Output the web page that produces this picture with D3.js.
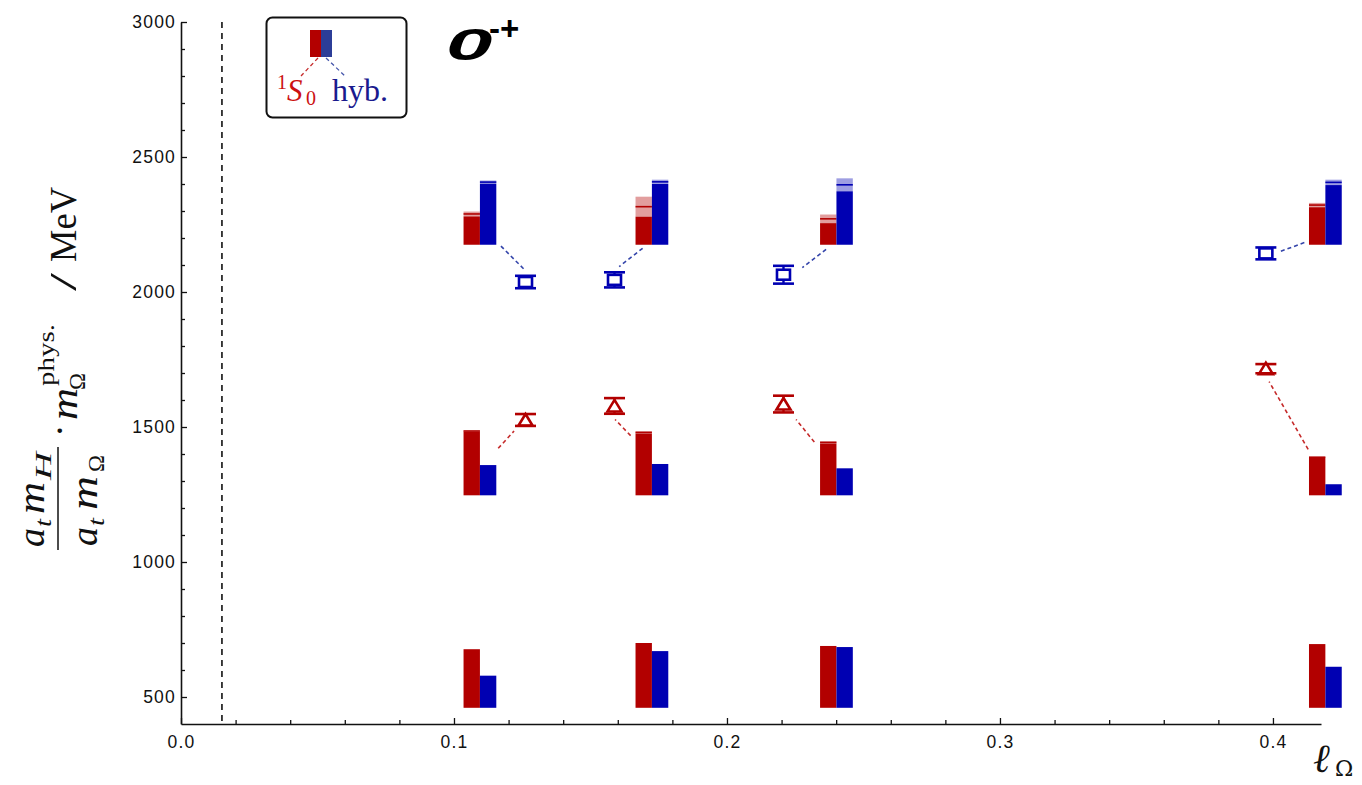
<!DOCTYPE html>
<html><head><meta charset="utf-8">
<script src="https://cdn.jsdelivr.net/npm/d3@7"></script>
<style>body{margin:0;background:#fff} svg{display:block}</style>
</head><body><svg id="chart" width="1362" height="785"></svg>
<script>
// l_Omega of each ensemble and the fitted masses (MeV)
const ellPoints = [0.1262, 0.1588, 0.2207, 0.3974];
const hybMass = [2037, 2045, 2064, 2143];
const hybErr = [23, 28, 33, 22];
const s0Mass = [1526, 1578, 1585, 1716];
const s0Err = [22, 29, 31, 17];

// overlap histograms: position, baseline per level, bar tops and errors
const barEll = [0.1095, 0.1725, 0.2401, 0.4192];
const barBase = [460, 1247, 2175];
const s0Low = [677, 700, 689, 696];
const hybLow = [579, 670, 685, 612];
const s0Mid = [1485, 1480, 1443, 1388];
const s0MidErr = [3, 4, 4, 2];
const hybMid = [1359, 1363, 1347, 1288];
const s0Top = [2289, 2316, 2271, 2322];
const s0TopErr = [9, 37, 16, 8];
const hybTop = [2407, 2408, 2397, 2406];
const hybTopErr = [6, 8, 24, 10];

// dashed connectors [l, MeV] between histogram and mass point
const hybLinkBar = [[0.1172, 2170], [0.1691, 2162], [0.2363, 2158], [0.4115, 2183]];
const hybLinkPt  = [[0.1260, 2081], [0.1605, 2094], [0.2276, 2090], [0.4029, 2151]];
const s0LinkBar  = [[0.1162, 1421], [0.1647, 1468], [0.2320, 1444], [0.4129, 1417]];
const s0LinkPt   = [[0.1220, 1485], [0.1590, 1528], [0.2253, 1528], [0.3986, 1668]];

// physical-point marker
const ellPhys = [0.015];

// ticks
const xMajor = [0, 0.1, 0.2, 0.3, 0.4];
const xMinor = [0.02, 0.04, 0.06, 0.08, 0.12, 0.14, 0.16, 0.18, 0.22, 0.24, 0.26, 0.28, 0.32, 0.34, 0.36, 0.38];
const yMajor = [500, 1000, 1500, 2000, 2500, 3000];
const yMinor = [600, 700, 800, 900, 1100, 1200, 1300, 1400, 1600, 1700, 1800, 1900, 2100, 2200, 2300, 2400, 2600, 2700, 2800, 2900];

const RED = "#b20000", BLUE = "#0000b2";
const barHalf = 0.006;

const svg = d3.select("#chart");
const x = d3.scaleLinear().domain([0, 0.4176]).range([181, 1321]);
const y = d3.scaleLinear().domain([400, 3000]).range([724, 22]);

// axes
const tickFont = "'Liberation Sans', Arial, sans-serif";
function styleAxis(g) {
  g.selectAll("path.domain").attr("stroke", "#111").attr("stroke-width", 1.6);
  g.selectAll(".tick line").attr("stroke", "#111").attr("stroke-width", 1.3);
  g.selectAll("text").attr("fill", "#111").style("font-family", tickFont)
    .style("font-size", "17.5px").style("letter-spacing", "1.2px");
}
const gx = svg.append("g").attr("transform", `translate(0,${y(400)})`)
  .call(d3.axisBottom(x).tickValues(xMajor).tickFormat(d3.format(".1f"))
    .tickSize(-6).tickSizeOuter(0).tickPadding(12));
styleAxis(gx);
const gxm = svg.append("g").attr("transform", `translate(0,${y(400)})`)
  .call(d3.axisBottom(x).tickValues(xMinor).tickFormat("").tickSize(-4).tickSizeOuter(0));
gxm.select("path.domain").remove();
styleAxis(gxm);

const gy = svg.append("g").attr("transform", `translate(${x(0)},0)`)
  .call(d3.axisLeft(y).tickValues(yMajor).tickFormat(d3.format("d"))
    .tickSize(-6).tickSizeOuter(0).tickPadding(5));
styleAxis(gy);
const gym = svg.append("g").attr("transform", `translate(${x(0)},0)`)
  .call(d3.axisLeft(y).tickValues(yMinor).tickFormat("").tickSize(-4).tickSizeOuter(0));
gym.select("path.domain").remove();
styleAxis(gym);

// physical-point line
svg.selectAll("line.phys").data(ellPhys).join("line").attr("class", "phys")
  .attr("x1", d => x(d)).attr("x2", d => x(d)).attr("y1", y(3000)).attr("y2", y(400))
  .attr("stroke", "#111").attr("stroke-width", 1.6).attr("stroke-dasharray", "6,5");

// histogram bars
const gb = svg.append("g");
function drawBar(x0, x1, base, val, err, color) {
  gb.append("rect").attr("x", x0).attr("width", x1 - x0)
    .attr("y", y(val - err)).attr("height", y(base) - y(val - err)).attr("fill", color);
  if (err > 0) {
    gb.append("rect").attr("x", x0).attr("width", x1 - x0)
      .attr("y", y(val + err)).attr("height", y(val - err) - y(val + err))
      .attr("fill", color).attr("fill-opacity", 0.38);
    gb.append("line").attr("x1", x0).attr("x2", x1).attr("y1", y(val)).attr("y2", y(val))
      .attr("stroke", color).attr("stroke-width", 1.6);
  }
}
barEll.forEach((e, i) => {
  const xl = x(e - barHalf), xc = x(e), xr = x(e + barHalf);
  drawBar(xl, xc, barBase[0], s0Low[i], 0, RED);
  drawBar(xc, xr, barBase[0], hybLow[i], 0, BLUE);
  drawBar(xl, xc, barBase[1], s0Mid[i], s0MidErr[i], RED);
  drawBar(xc, xr, barBase[1], hybMid[i], 0, BLUE);
  drawBar(xl, xc, barBase[2], s0Top[i], s0TopErr[i], RED);
  drawBar(xc, xr, barBase[2], hybTop[i], hybTopErr[i], BLUE);
});

// connectors
function links(from, to, color) {
  svg.append("g").selectAll("line").data(from).join("line")
    .attr("x1", d => x(d[0])).attr("y1", d => y(d[1]))
    .attr("x2", (d, i) => x(to[i][0])).attr("y2", (d, i) => y(to[i][1]))
    .attr("stroke", color).attr("stroke-width", 1.6).attr("stroke-dasharray", "4,3");
}
links(hybLinkBar, hybLinkPt, "#3344aa");
links(s0LinkBar, s0LinkPt, "#c52a2a");

// mass points with error bars
function points(mass, err, color, shape) {
  const g = svg.append("g").selectAll("g").data(ellPoints).join("g")
    .attr("transform", (d, i) => `translate(${x(d)},0)`);
  g.append("line").attr("x1", 0).attr("x2", 0)
    .attr("y1", (d, i) => y(mass[i] + err[i])).attr("y2", (d, i) => y(mass[i] - err[i]))
    .attr("stroke", color).attr("stroke-width", 2.4);
  if (shape === "square") {
    g.append("rect").attr("x", -6.5).attr("width", 13).attr("height", 10)
      .attr("y", (d, i) => y(mass[i]) - 5)
      .attr("fill", "#fff").attr("stroke", color).attr("stroke-width", 2.6);
  } else {
    g.append("path").attr("d", (d, i) => {
      const c = y(mass[i]);
      return `M0,${c - 6}L7,${c + 5.5}L-7,${c + 5.5}Z`;
    }).attr("fill", "#fff").attr("stroke", color).attr("stroke-width", 2.6).attr("stroke-linejoin", "miter");
  }
  [1, -1].forEach(s => {
    g.append("line").attr("x1", -10.5).attr("x2", 10.5)
      .attr("y1", (d, i) => y(mass[i] + s * err[i])).attr("y2", (d, i) => y(mass[i] + s * err[i]))
      .attr("stroke", color).attr("stroke-width", 2.6);
  });
}
points(hybMass, hybErr, BLUE, "square");
points(s0Mass, s0Err, RED, "triangle");

// legend
const lg = svg.append("g");
lg.append("rect").attr("x", 266.5).attr("y", 17.5).attr("width", 140).attr("height", 100)
  .attr("rx", 6).attr("fill", "#fff").attr("stroke", "#111").attr("stroke-width", 2);
lg.append("rect").attr("x", 310).attr("y", 30).attr("width", 11).attr("height", 27).attr("fill", "#b30000");
lg.append("rect").attr("x", 321).attr("y", 30).attr("width", 11).attr("height", 27).attr("fill", "#2c3d98");
lg.append("line").attr("x1", 318).attr("y1", 58).attr("x2", 301).attr("y2", 76)
  .attr("stroke", "#c52a2a").attr("stroke-width", 1.3).attr("stroke-dasharray", "4,3");
lg.append("line").attr("x1", 326).attr("y1", 58).attr("x2", 345).attr("y2", 76)
  .attr("stroke", "#4455aa").attr("stroke-width", 1.3).attr("stroke-dasharray", "4,3");
const serif = "'Liberation Serif', 'Times New Roman', serif";
const lt = lg.append("text").attr("fill", "#cc1111").style("font-family", serif);
lt.append("tspan").attr("x", 277).attr("y", 89).style("font-size", "20px").text("1");
lt.append("tspan").attr("x", 287).attr("y", 101).style("font-size", "31px").style("font-style", "italic").text("S");
lt.append("tspan").attr("x", 306).attr("y", 105).style("font-size", "20px").text("0");
lg.append("text").attr("x", 332).attr("y", 101).attr("fill", "#1a1a8e")
  .style("font-family", serif).style("font-size", "32px").text("hyb.");

// channel label
const title = svg.append("g");
title.append("text").attr("transform", "translate(446,60) scale(1.85,1)")
  .style("font-family", "'Liberation Sans', Arial, sans-serif").style("font-weight", "bold")
  .style("font-style", "italic").style("font-size", "45px").attr("fill", "#000").text("0");
title.append("text").attr("x", 489).attr("y", 40)
  .style("font-family", "'Liberation Sans', Arial, sans-serif").style("font-weight", "bold")
  .style("font-size", "33px").attr("fill", "#000").text("-+");

// x-axis title
const xt = svg.append("text").style("font-family", "'DejaVu Serif', serif").attr("fill", "#111");
xt.append("tspan").attr("x", 1313).attr("y", 772).style("font-size", "40px").style("font-style", "italic").text("ℓ");
xt.append("tspan").attr("x", 1335).attr("y", 776).style("font-size", "22px").text("Ω");

// y-axis title (rotated)
const yt = svg.append("g").attr("transform", "rotate(-90)").attr("fill", "#111")
  .style("font-family", serif);
function piece(u, v, str, size, italic, len) {
  const t = yt.append("text").attr("x", u).attr("y", v).style("font-size", size + "px")
    .style("font-style", italic ? "italic" : "normal").text(str);
  if (len) t.attr("textLength", len).attr("lengthAdjust", "spacingAndGlyphs");
  return t;
}
// numerator a_t m_H
piece(-547, 44, "a", 38, true, 19);
piece(-527, 51, "t", 24, true, 8);
piece(-514, 44, "m", 38, true, 32);
piece(-480, 51, "H", 24, true, 28);
// fraction bar
svg.append("line").attr("x1", 58).attr("x2", 58).attr("y1", 447).attr("y2", 550)
  .attr("stroke", "#111").attr("stroke-width", 1.5);
// denominator a_t m_Omega
piece(-546, 97, "a", 38, true, 19);
piece(-526, 104, "t", 24, true, 8);
piece(-510, 97, "m", 38, true, 34);
piece(-472, 104, "Ω", 24, false, 17);
// · m_Omega^phys.
piece(-437, 72, "·", 38, false);
piece(-420, 77, "m", 38, true, 32);
piece(-390, 85, "Ω", 24, false, 17);
piece(-386, 54, "phys.", 24, false, 62);
// / MeV
piece(-291, 76, "/", 38, false, 18);
piece(-262, 76, "MeV", 38, false, 75);
</script></body></html>
